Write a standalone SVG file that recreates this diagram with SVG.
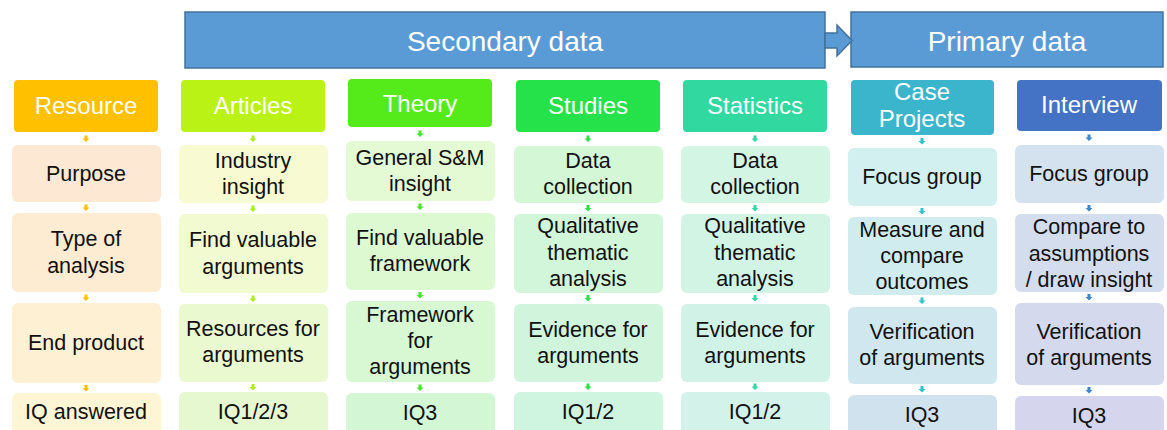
<svg xmlns="http://www.w3.org/2000/svg" width="1167" height="430" viewBox="0 0 1167 430">
<style>
.ban{fill:#5b9bd5;stroke:#41719c;stroke-width:1.5}
.bt{font-family:"Liberation Sans",Arial,sans-serif;font-size:28px;fill:#fff;text-anchor:middle}
.ht{font-family:"Liberation Sans",Arial,sans-serif;font-size:24px;fill:#fff;text-anchor:middle}
.t{font-family:"Liberation Sans",Arial,sans-serif;font-size:21.5px;fill:#111;text-anchor:middle}
</style>
<rect width="1167" height="430" fill="#fff"/>
<g id="banner">
<g id="secondary"><rect class="ban" x="185" y="12" width="640" height="56"/><text class="bt" x="505" y="51">Secondary data</text></g>
<g id="primary"><rect class="ban" x="851" y="12" width="312" height="55"/><text class="bt" x="1007" y="51">Primary data</text></g>
<polygon class="ban" points="825,33 837,33 837,25 852,40.5 837,56 837,48 825,48"/>
</g>
<g id="connectors">
<g fill="#ffc000">
<path d="M84.5,135.5h3v3h2l-3.5,3.5l-3.5,-3.5h2z"/>
<path d="M84.5,204.5h3v3h2l-3.5,3.5l-3.5,-3.5h2z"/>
<path d="M84.5,294.5h3v3h2l-3.5,3.5l-3.5,-3.5h2z"/>
<path d="M84.5,385h3v3h2l-3.5,3.5l-3.5,-3.5h2z"/>
</g>
<g fill="#a9ee1c">
<path d="M251.5,135.5h3v3h2l-3.5,3.5l-3.5,-3.5h2z"/>
<path d="M251.5,205.5h3v3h2l-3.5,3.5l-3.5,-3.5h2z"/>
<path d="M251.5,295.5h3v3h2l-3.5,3.5l-3.5,-3.5h2z"/>
<path d="M251.5,384h3v3h2l-3.5,3.5l-3.5,-3.5h2z"/>
</g>
<g fill="#46e628">
<path d="M418.5,130.5h3v3h2l-3.5,3.5l-3.5,-3.5h2z"/>
<path d="M418.5,203.5h3v3h2l-3.5,3.5l-3.5,-3.5h2z"/>
<path d="M418.5,292h3v3h2l-3.5,3.5l-3.5,-3.5h2z"/>
<path d="M418.5,384.5h3v3h2l-3.5,3.5l-3.5,-3.5h2z"/>
</g>
<g fill="#2ce04c">
<path d="M586.5,135.5h3v3h2l-3.5,3.5l-3.5,-3.5h2z"/>
<path d="M586.5,205h3v3h2l-3.5,3.5l-3.5,-3.5h2z"/>
<path d="M586.5,295h3v3h2l-3.5,3.5l-3.5,-3.5h2z"/>
<path d="M586.5,383.5h3v3h2l-3.5,3.5l-3.5,-3.5h2z"/>
</g>
<g fill="#33d8a3">
<path d="M753.5,135.5h3v3h2l-3.5,3.5l-3.5,-3.5h2z"/>
<path d="M753.5,205h3v3h2l-3.5,3.5l-3.5,-3.5h2z"/>
<path d="M753.5,295h3v3h2l-3.5,3.5l-3.5,-3.5h2z"/>
<path d="M753.5,383.5h3v3h2l-3.5,3.5l-3.5,-3.5h2z"/>
</g>
<g fill="#38c0cc">
<path d="M920.5,138h3v3h2l-3.5,3.5l-3.5,-3.5h2z"/>
<path d="M920.5,208h3v3h2l-3.5,3.5l-3.5,-3.5h2z"/>
<path d="M920.5,297.5h3v3h2l-3.5,3.5l-3.5,-3.5h2z"/>
<path d="M920.5,386h3v3h2l-3.5,3.5l-3.5,-3.5h2z"/>
</g>
<g fill="#3f86cc">
<path d="M1087.5,134.5h3v3h2l-3.5,3.5l-3.5,-3.5h2z"/>
<path d="M1087.5,205h3v3h2l-3.5,3.5l-3.5,-3.5h2z"/>
<path d="M1087.5,294h3v3h2l-3.5,3.5l-3.5,-3.5h2z"/>
<path d="M1087.5,387h3v3h2l-3.5,3.5l-3.5,-3.5h2z"/>
</g>
</g>
<g id="col-resource">
<g id="h-resource"><rect x="14" y="80" width="144" height="52" rx="4" fill="#ffc000"/><text class="ht" x="86" y="114">Resource</text></g>
<g id="r-purpose"><rect x="12" y="145" width="149" height="57" rx="6" fill="#fde8d3"/><text class="t" x="86" y="181">Purpose</text></g>
<g id="r-type"><rect x="12" y="213" width="149" height="79" rx="6" fill="#fdebd2"/><text class="t" x="86" y="246">Type of</text><text class="t" x="86" y="273">analysis</text></g>
<g id="r-end"><rect x="12" y="303" width="149" height="80" rx="6" fill="#fdf0d3"/><text class="t" x="86" y="350">End product</text></g>
<g id="r-iq"><rect x="12" y="393" width="149" height="50" rx="6" fill="#fdf5d4"/><text class="t" x="86" y="419">IQ answered</text></g>
</g>
<g id="col-articles">
<g id="h-articles"><rect x="181" y="80" width="144" height="52" rx="4" fill="#b9f214"/><text class="ht" x="253" y="114">Articles</text></g>
<g id="a-1"><rect x="179" y="145" width="149" height="58" rx="6" fill="#f8fbd2"/><text class="t" x="253" y="168">Industry</text><text class="t" x="253" y="194">insight</text></g>
<g id="a-2"><rect x="179" y="214" width="149" height="79" rx="6" fill="#f1fad1"/><text class="t" x="253" y="247">Find valuable</text><text class="t" x="253" y="274">arguments</text></g>
<g id="a-3"><rect x="179" y="304" width="149" height="78" rx="6" fill="#ebf9d0"/><text class="t" x="253" y="336">Resources for</text><text class="t" x="253" y="362">arguments</text></g>
<g id="a-4"><rect x="179" y="392" width="149" height="50" rx="6" fill="#e5f8d0"/><text class="t" x="253" y="419">IQ1/2/3</text></g>
</g>
<g id="col-theory">
<g id="h-theory"><rect x="348" y="79" width="144" height="48" rx="4" fill="#55ea1a"/><text class="ht" x="420" y="112">Theory</text></g>
<g id="t-1"><rect x="346" y="141" width="149" height="60" rx="6" fill="#e3fad4"/><text class="t" x="420" y="165">General S&amp;M</text><text class="t" x="420" y="191">insight</text></g>
<g id="t-2"><rect x="346" y="213" width="149" height="77" rx="6" fill="#dcf9d2"/><text class="t" x="420" y="245">Find valuable</text><text class="t" x="420" y="271">framework</text></g>
<g id="t-3"><rect x="346" y="301" width="149" height="81" rx="6" fill="#d7f8d2"/><text class="t" x="420" y="322">Framework</text><text class="t" x="420" y="348">for</text><text class="t" x="420" y="374">arguments</text></g>
<g id="t-4"><rect x="346" y="393" width="149" height="50" rx="6" fill="#d3f7d4"/><text class="t" x="420" y="420">IQ3</text></g>
</g>
<g id="col-studies">
<g id="h-studies"><rect x="516" y="80" width="144" height="52" rx="4" fill="#26e24a"/><text class="ht" x="588" y="114">Studies</text></g>
<g id="s-1"><rect x="514" y="146" width="149" height="57" rx="6" fill="#d4f7d6"/><text class="t" x="588" y="168">Data</text><text class="t" x="588" y="194">collection</text></g>
<g id="s-2"><rect x="514" y="214" width="149" height="79" rx="6" fill="#d2f6d9"/><text class="t" x="588" y="233">Qualitative</text><text class="t" x="588" y="260">thematic</text><text class="t" x="588" y="286">analysis</text></g>
<g id="s-3"><rect x="514" y="304" width="149" height="78" rx="6" fill="#d0f5dc"/><text class="t" x="588" y="337">Evidence for</text><text class="t" x="588" y="363">arguments</text></g>
<g id="s-4"><rect x="514" y="392" width="149" height="50" rx="6" fill="#cff4df"/><text class="t" x="588" y="419">IQ1/2</text></g>
</g>
<g id="col-statistics">
<g id="h-statistics"><rect x="683" y="80" width="144" height="52" rx="4" fill="#31d8a0"/><text class="ht" x="755" y="114">Statistics</text></g>
<g id="st-1"><rect x="681" y="146" width="149" height="57" rx="6" fill="#d3f5e3"/><text class="t" x="755" y="168">Data</text><text class="t" x="755" y="194">collection</text></g>
<g id="st-2"><rect x="681" y="214" width="149" height="79" rx="6" fill="#d2f4e5"/><text class="t" x="755" y="233">Qualitative</text><text class="t" x="755" y="260">thematic</text><text class="t" x="755" y="286">analysis</text></g>
<g id="st-3"><rect x="681" y="304" width="149" height="78" rx="6" fill="#d1f3e7"/><text class="t" x="755" y="337">Evidence for</text><text class="t" x="755" y="363">arguments</text></g>
<g id="st-4"><rect x="681" y="392" width="149" height="50" rx="6" fill="#d2f2ea"/><text class="t" x="755" y="419">IQ1/2</text></g>
</g>
<g id="col-case">
<g id="h-case"><rect x="851" y="80" width="143" height="55" rx="4" fill="#3bb5cc"/><text class="ht" x="922" y="100">Case</text><text class="ht" x="922" y="127">Projects</text></g>
<g id="c-1"><rect x="848" y="148" width="149" height="58" rx="6" fill="#d2f0ef"/><text class="t" x="922" y="184">Focus group</text></g>
<g id="c-2"><rect x="848" y="217" width="149" height="78" rx="6" fill="#d0ecee"/><text class="t" x="922" y="237">Measure and</text><text class="t" x="922" y="263">compare</text><text class="t" x="922" y="289">outcomes</text></g>
<g id="c-3"><rect x="848" y="307" width="149" height="77" rx="6" fill="#d0e7ef"/><text class="t" x="922" y="339">Verification</text><text class="t" x="922" y="365">of arguments</text></g>
<g id="c-4"><rect x="848" y="395" width="149" height="50" rx="6" fill="#d1e2ef"/><text class="t" x="922" y="422">IQ3</text></g>
</g>
<g id="col-interview">
<g id="h-interview"><rect x="1017" y="80" width="145" height="51" rx="4" fill="#4472c4"/><text class="ht" x="1089" y="113">Interview</text></g>
<g id="i-1"><rect x="1015" y="145" width="149" height="58" rx="6" fill="#d3e2ee"/><text class="t" x="1089" y="181">Focus group</text></g>
<g id="i-2"><rect x="1015" y="214" width="149" height="78" rx="6" fill="#d3ddee"/><text class="t" x="1089" y="234">Compare to</text><text class="t" x="1089" y="261">assumptions</text><text class="t" x="1089" y="287">/ draw insight</text></g>
<g id="i-3"><rect x="1015" y="303" width="149" height="82" rx="6" fill="#d4d9ee"/><text class="t" x="1089" y="339">Verification</text><text class="t" x="1089" y="365">of arguments</text></g>
<g id="i-4"><rect x="1015" y="396" width="149" height="50" rx="6" fill="#d5d6ee"/><text class="t" x="1089" y="423">IQ3</text></g>
</g>
</svg>
